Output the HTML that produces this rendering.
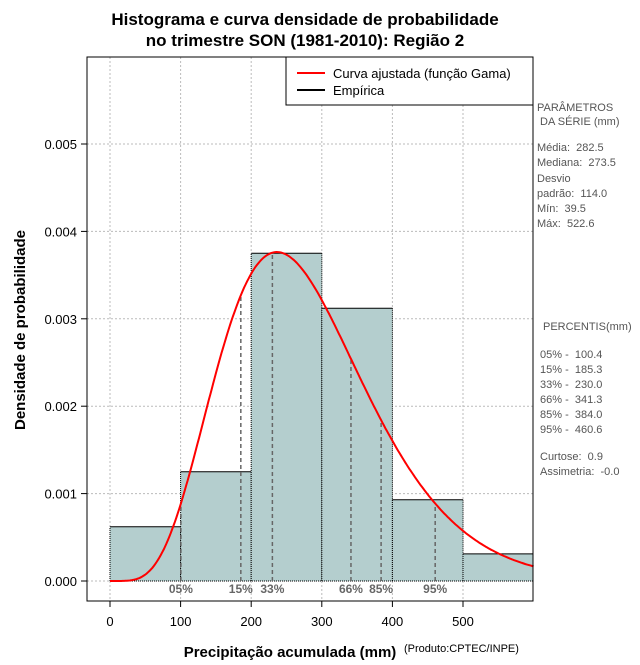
<!DOCTYPE html>
<html><head><meta charset="utf-8"><style>
body{margin:0;background:#fff;}
svg text{font-family:"Liberation Sans",sans-serif;white-space:pre;}
</style></head><body>
<svg id="c" width="640" height="660" xmlns="http://www.w3.org/2000/svg">
<text x="305" y="25" text-anchor="middle" font-size="17" font-weight="bold">Histograma e curva densidade de probabilidade</text>
<text x="305" y="46" text-anchor="middle" font-size="17" font-weight="bold">no trimestre SON (1981-2010): Região 2</text>
<g id="grid"></g>
<g id="bars"></g>
<g id="pct"></g>
<path id="curve" fill="none" stroke="#ff0000" stroke-width="2"/>
<rect x="87" y="57" width="446" height="544" fill="none" stroke="#000"/>
<g id="axes"></g>
<g>
<rect x="286" y="57" width="247" height="48" fill="#fff" stroke="#000"/>
<line x1="297" y1="73" x2="325" y2="73" stroke="#f00" stroke-width="2"/>
<text x="333" y="78" font-size="13">Curva ajustada (função Gama)</text>
<line x1="297" y1="90" x2="325" y2="90" stroke="#000" stroke-width="2"/>
<text x="333" y="95" font-size="13">Empírica</text>
</g>
<g font-size="11" fill="#555">
<text x="537" y="111">PARÂMETROS</text><text x="537" y="125"> DA SÉRIE (mm)</text>
<text x="537" y="151">Média:  282.5</text><text x="537" y="166">Mediana:  273.5</text>
<text x="537" y="182">Desvio</text><text x="537" y="197">padrão:  114.0</text>
<text x="537" y="212">Mín:  39.5</text><text x="537" y="227">Máx:  522.6</text>
<text x="543" y="330">PERCENTIS(mm)</text>
<text x="540" y="358">05% -  100.4</text><text x="540" y="373">15% -  185.3</text>
<text x="540" y="388">33% -  230.0</text><text x="540" y="403">66% -  341.3</text>
<text x="540" y="418">85% -  384.0</text><text x="540" y="433">95% -  460.6</text>
<text x="540" y="460">Curtose:  0.9</text><text x="540" y="475">Assimetria:  -0.0</text>
</g>
<text x="25" y="330" transform="rotate(-90 25 330)" text-anchor="middle" font-size="15" font-weight="bold">Densidade de probabilidade</text>
<text x="290" y="657" text-anchor="middle" font-size="15" font-weight="bold">Precipitação acumulada (mm)</text>
<text x="404" y="652" font-size="11">(Produto:CPTEC/INPE)</text>
</svg>
<script>
const binStarts=[0,100,200,300,400,500];
const binDensity=[0.00062,0.00125,0.00375,0.00312,0.00093,0.00031];
const xTicks=[0,100,200,300,400,500];
const yTicks=[0.000,0.001,0.002,0.003,0.004,0.005];
const pctLabels=["05%","15%","33%","66%","85%","95%"];
const pctValues=[100.4,185.3,230.0,341.3,384.0,460.6];
const gammaShape=[6.14];
const gammaScale=[46.0];
const NS="http://www.w3.org/2000/svg";
const X=v=>110+v*0.706, Y=v=>581-v*87400;
function mk(t,a,p){const e=document.createElementNS(NS,t);for(const k in a)e.setAttribute(k,a[k]);p.appendChild(e);return e;}
function lgam(z){const g=[76.18009172947146,-86.50532032941677,24.01409824083091,-1.231739572450155,0.1208650973866179e-2,-0.5395239384953e-5];let x=z,y=z,t=x+5.5;t-=(x+0.5)*Math.log(t);let s=1.000000000190015;for(let j=0;j<6;j++)s+=g[j]/++y;return -t+Math.log(2.5066282746310005*s/x);}
const k=gammaShape[0],th=gammaScale[0];
const dens=x=>x<=0?0:Math.exp((k-1)*Math.log(x)-x/th-lgam(k)-k*Math.log(th));
const grid=document.getElementById('grid'),bars=document.getElementById('bars'),pct=document.getElementById('pct'),axes=document.getElementById('axes');
xTicks.forEach(t=>{const l=mk('line',{x1:X(t),x2:X(t),y1:57,y2:601,stroke:'#bbb','stroke-dasharray':'2,2'},grid);


mk('line',{x1:X(t),x2:X(t),y1:601,y2:607,stroke:'#000'},axes);
const tx=mk('text',{x:X(t),y:626,'text-anchor':'middle','font-size':13},axes);tx.textContent=t;

});
yTicks.forEach(t=>{const l=mk('line',{x1:87,x2:533,y1:Y(t),y2:Y(t),stroke:'#bbb','stroke-dasharray':'2,2'},grid);


mk('line',{x1:81,x2:87,y1:Y(t),y2:Y(t),stroke:'#000'},axes);
const tx=mk('text',{x:77,y:Y(t)+5,'text-anchor':'end','font-size':13},axes);tx.textContent=t.toFixed(3);

});
binStarts.forEach((b,i)=>{const x0=X(b),x1=Math.min(X(b+100),533),y=Y(binDensity[i]);
const r=mk('rect',{x:x0,y:y,width:x1-x0,height:581-y,fill:'#b4cece'},bars);


mk('path',{d:`M${x0},581V${y}M${x1},${y}V581`,stroke:'#000','stroke-dasharray':'1,1',fill:'none'},bars);
mk('line',{x1:x0,x2:x1,y1:y,y2:y,stroke:'#000'},bars);});
mk('line',{x1:X(0),x2:533,y1:581,y2:581,stroke:'#000','stroke-dasharray':'1,1'},bars);
pctValues.forEach((v,i)=>{const l=mk('line',{x1:X(v),x2:X(v),y1:581,y2:Y(dens(v)),stroke:'#666','stroke-width':1.5,'stroke-dasharray':'4,3'},pct);


const t=mk('text',{x:X(v),y:593,'text-anchor':'middle','font-size':12,'font-weight':'bold',fill:'#666'},pct);t.textContent=pctLabels[i];

});
let d='';for(let x=0;x<=600;x+=2){d+=(x?'L':'M')+X(x).toFixed(1)+','+Y(dens(x)).toFixed(1);}
document.getElementById('curve').setAttribute('d',d);
</script>
</body></html>
